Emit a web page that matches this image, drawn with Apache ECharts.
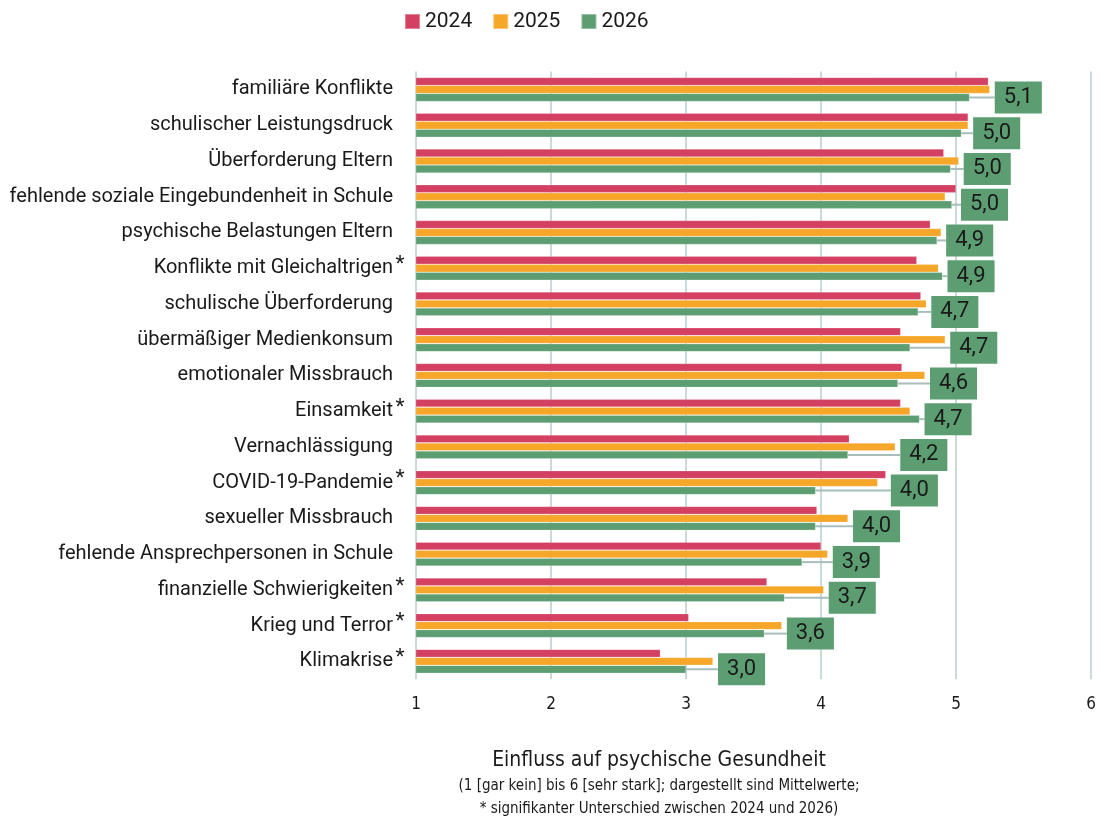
<!DOCTYPE html>
<html>
<head>
<meta charset="utf-8">
<script src="https://cdn.jsdelivr.net/npm/echarts@6/dist/echarts.min.js"></script>
<style>html,body{margin:0;padding:0;background:#fff}#c{width:1104px;height:816px}</style>
</head>
<body>
<div id="c"></div>
<script>
const categories = [
  'familiäre Konflikte',
  'schulischer Leistungsdruck',
  'Überforderung Eltern',
  'fehlende soziale Eingebundenheit in Schule',
  'psychische Belastungen Eltern',
  'Konflikte mit Gleichaltrigen',
  'schulische Überforderung',
  'übermäßiger Medienkonsum',
  'emotionaler Missbrauch',
  'Einsamkeit',
  'Vernachlässigung',
  'COVID-19-Pandemie',
  'sexueller Missbrauch',
  'fehlende Ansprechpersonen in Schule',
  'finanzielle Schwierigkeiten',
  'Krieg und Terror',
  'Klimakrise'
];
const significant = [false,false,false,false,false,true,false,false,false,true,false,true,false,false,true,true,true];
const v2024 = [5.24,5.09,4.91,5.00,4.81,4.71,4.74,4.59,4.60,4.59,4.21,4.48,3.97,4.00,3.60,3.02,2.81];
const v2025 = [5.25,5.09,5.02,4.92,4.89,4.87,4.78,4.92,4.77,4.66,4.55,4.42,4.20,4.05,4.02,3.71,3.20];
const v2026 = [5.10,5.04,4.96,4.97,4.86,4.90,4.72,4.66,4.57,4.73,4.20,3.96,3.96,3.86,3.73,3.58,3.00];
const xTicks = [1,2,3,4,5,6];
const seriesNames = ['2024','2025','2026'];

const C_RED = '#D44062', C_ORANGE = '#F6A72A', C_GREEN = '#5C9E72';
const FONT = 'Roboto';
const COND = "'Liberation Sans Narrow', 'DejaVu Sans Condensed', Roboto";

const chart = echarts.init(document.getElementById('c'), null, {renderer: 'canvas'});

const barBase = {type: 'bar', barWidth: 8, barGap: '0%', itemStyle: {borderColor: 'rgba(255,255,255,0.35)', borderWidth: 0.6}};

chart.setOption({
  animation: false,
  textStyle: {fontFamily: FONT},
  legend: {
    data: seriesNames, left: 404, top: 11, padding: 0, icon: 'rect', itemWidth: 15, itemHeight: 15, itemGap: 20,
    textStyle: {fontSize: 21, color: '#1a1a1a', fontFamily: FONT}
  },
  title: [
    {text: 'Einfluss auf psychische Gesundheit', left: 654, top: 745, textAlign: 'center',
     textStyle: {fontSize: 21, fontWeight: 'normal', color: '#1a1a1a', fontFamily: COND}},
    {text: '(1 [gar kein] bis 6 [sehr stark]; dargestellt sind Mittelwerte;', left: 654, top: 774, textAlign: 'center',
     textStyle: {fontSize: 15, fontWeight: 'normal', color: '#1a1a1a', fontFamily: COND}},
    {text: '* signifikanter Unterschied zwischen 2024 und 2026)', left: 654, top: 797, textAlign: 'center',
     textStyle: {fontSize: 15, fontWeight: 'normal', color: '#1a1a1a', fontFamily: COND}}
  ],
  grid: {left: 416, right: 13, top: 71.6, bottom: 136.8, containLabel: false},
  xAxis: {
    type: 'value', min: xTicks[0], max: xTicks[xTicks.length - 1], interval: 1,
    axisLine: {show: false}, axisTick: {show: false},
    axisLabel: {fontSize: 17, color: '#1a1a1a', margin: 17, fontFamily: COND},
    splitLine: {show: true, lineStyle: {color: '#CBD9D9', width: 2}}
  },
  yAxis: {
    type: 'category', data: categories, inverse: true,
    axisLine: {show: false}, axisTick: {show: false},
    axisLabel: {
      fontSize: 20, color: '#1a1a1a', margin: 10, fontFamily: FONT,
      formatter: (v, i) => v + (significant[i] ? '{s|*}' : '{s| }'),
      rich: {s: {fontSize: 21, width: 12, align: 'left', color: '#1a1a1a', padding: [0,0,7,1], fontFamily: FONT}}
    }
  },
  series: [
    Object.assign({}, barBase, {name: seriesNames[0], data: v2024, itemStyle: Object.assign({}, barBase.itemStyle, {color: C_RED})}),
    Object.assign({}, barBase, {name: seriesNames[1], data: v2025, itemStyle: Object.assign({}, barBase.itemStyle, {color: C_ORANGE})}),
    Object.assign({}, barBase, {name: seriesNames[2], data: v2026, itemStyle: Object.assign({}, barBase.itemStyle, {color: C_GREEN}),
      label: {
        show: true, position: 'right', distance: 5,
        formatter: p => p.value.toFixed(1).replace('.', ','),
        backgroundColor: C_GREEN, padding: [5, 9, 4, 9], fontSize: 22, lineHeight: 23,
        color: '#1a1a1a', fontFamily: FONT
      },
      labelLine: {show: true, lineStyle: {color: '#A9BDBD', width: 2}},
      labelLayout: function (params) {
        const i = params.dataIndex;
        const mx = Math.max(v2024[i], v2025[i], v2026[i]);
        const ppu = params.rect.width / (v2026[i] - xTicks[0]);
        return {dx: (mx - v2026[i]) * ppu};
      }
    })
  ]
});
</script>
</body>
</html>
